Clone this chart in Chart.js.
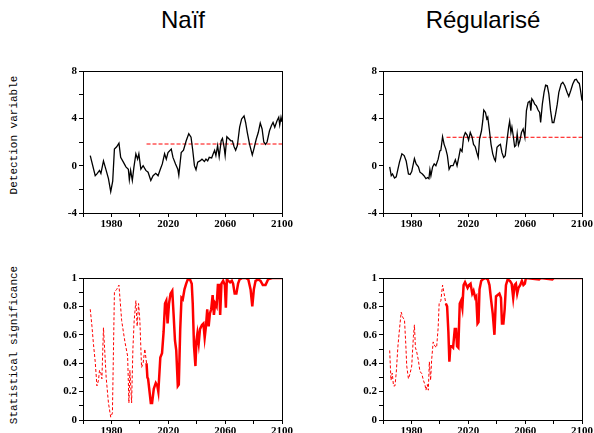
<!DOCTYPE html>
<html>
<head>
<meta charset="utf-8">
<script src="https://cdn.jsdelivr.net/npm/chart.js@4/dist/chart.umd.min.js"></script>
<style>
  body { margin: 0; background: #fff; }
  #wrap { position: relative; width: 594px; height: 433px; overflow: hidden; }
  canvas { position: absolute; }
  .title { position: absolute; font-family: "Liberation Sans", sans-serif; font-size: 24px; color: #000; transform: translateX(-50%); top: 6px; }
  .ylab { position: absolute; font-family: "Liberation Mono", monospace; font-size: 11px; color: #000; white-space: nowrap;
          transform: translate(-50%, -50%) rotate(-90deg); }
</style>
</head>
<body>
<div id="wrap">
  <div class="title" style="left:183px">Naïf</div>
  <div class="title" style="left:483px">Régularisé</div>
  <div class="ylab" style="left:14px; top:135px">Detection variable</div>
  <div class="ylab" style="left:14px; top:345px">Statistical significance</div>
  <canvas id="tl" width="254" height="175" style="left:40px; top:60px"></canvas>
  <canvas id="tr" width="254" height="175" style="left:340px; top:60px"></canvas>
  <canvas id="bl" width="254" height="175" style="left:40px; top:267px"></canvas>
  <canvas id="br" width="254" height="175" style="left:340px; top:267px"></canvas>
</div>
<script>
// detection variable, naive method
const naifYears = [1965.1,1968.6,1969.8,1971.6,1972.6,1974.4,1976.3,1977.9,1979.5,1980.9,1982.1,1983.7,1985.3,1986.5,1988.4,1990.2,1991.9,1992.6,1993.5,1994.7,1995.8,1997.2,1998.4,1999.3,2000.7,2002.3,2004.2,2005.8,2007.7,2009.3,2011.2,2012.8,2014.4,2015.8,2017.4,2018.6,2019.8,2022.1,2023.3,2025.1,2026.7,2027.4,2029.1,2030.7,2032.6,2034.4,2036.0,2037.2,2038.4,2039.5,2040.7,2042.3,2043.7,2045.4,2046.5,2047.7,2048.8,2050.5,2051.6,2052.6,2053.5,2054.7,2055.8,2057.2,2058.1,2059.3,2060.0,2061.2,2062.8,2064.0,2065.1,2066.3,2067.4,2068.6,2070.2,2071.6,2073.3,2074.4,2075.6,2077.2,2079.1,2080.2,2081.9,2083.3,2084.7,2086.0,2087.2,2088.4,2089.5,2091.2,2092.6,2093.7,2094.9,2096.5,2097.7,2098.4,2099.3,2100];
const naifValues = [0.85,-0.85,-0.7,-0.4,-0.65,0.4,-0.4,-1.1,-2.2,-1.3,1.4,1.6,1.9,0.7,0.3,-0.1,-0.3,-1.2,-0.4,-1.25,-0.15,1.0,0.55,1.0,-0.3,0,-0.4,-0.55,-1.25,-0.85,-0.65,-0.85,-0.3,0.15,1.0,0.55,1.1,1.4,0.7,0.15,-0.3,-0.8,1.1,1.3,2.1,2.7,2.4,1.3,0,-0.35,0.3,0.4,0.55,0.35,0.55,0.4,0.7,0.65,1.0,1.3,0.85,1.7,0.75,2.1,2.3,1.55,0.85,2.45,2.25,2.1,2.1,1.6,1.3,1.7,3.25,3.95,4.2,3.65,2.8,1.8,0.9,1.4,2.25,2.8,3.6,3.1,2.0,1.8,2.0,2.95,3.4,3.65,3.25,3.8,4.1,3.45,4.1,3.7];

// detection variable, regularised method
const regYears = [1964.7,1965.8,1966.7,1968.1,1969.3,1970.5,1971.6,1973.3,1974.9,1976.3,1977.9,1979.1,1980.2,1982.1,1983.3,1984.9,1986.0,1987.7,1988.8,1990.2,1991.4,1992.3,1993.0,1993.7,1994.9,1996.0,1997.2,1998.8,2000.0,2000.7,2001.9,2003.0,2004.2,2005.3,2006.5,2007.7,2009.3,2010.9,2012.1,2013.3,2014.4,2015.6,2016.7,2017.9,2019.1,2020.2,2021.4,2022.6,2023.7,2024.9,2026.0,2027.0,2027.9,2029.3,2030.2,2030.9,2032.1,2033.0,2033.7,2034.9,2036.0,2037.2,2038.4,2039.1,2040.2,2041.4,2042.6,2043.7,2044.9,2046.0,2047.2,2048.4,2049.1,2050.0,2050.7,2051.6,2052.6,2053.5,2054.4,2055.3,2056.3,2057.4,2058.6,2059.8,2060.9,2062.1,2063.3,2064.0,2064.7,2065.6,2066.7,2067.9,2069.1,2070.2,2070.9,2072.1,2073.3,2074.4,2075.6,2076.7,2077.9,2079.1,2080.2,2081.4,2082.6,2083.7,2085.3,2086.5,2087.9,2089.5,2090.7,2092.1,2093.5,2094.9,2096.0,2097.2,2098.1,2098.8,2100];
const regValues = [-0.1,-0.85,-0.7,-1.05,-0.95,-0.3,0.3,1.0,0.85,0.4,-0.7,-0.75,-0.5,0.6,0.15,-0.1,-0.55,-0.7,-0.85,-1.1,-1.0,-1.1,-0.35,-0.85,-0.1,0.15,0,0.55,1.25,1.3,2.45,1.8,1.4,0.85,-0.3,0,0,0.5,0,0.7,1.4,1.2,2.4,2.8,2.6,2.15,2.8,2.45,1.8,1.6,1.1,0.7,2.25,2.95,3.8,4.7,4.5,3.95,4.1,2.95,1.8,1.0,0.55,0.4,1.55,1.7,1.8,1.1,0.7,0.85,2.1,3.25,3.75,2.8,3.25,2.55,1.6,1.7,2.7,1.75,2.1,2.8,3.1,2.4,4.65,5.35,5.45,4.65,5.65,5.5,5.2,5.05,4.7,4.5,3.65,5.2,6.2,6.8,6.75,6.05,4.65,3.65,3.65,4.35,5.2,6.2,6.9,7.05,6.75,6.2,5.85,6.35,6.9,7.25,7.3,7.05,6.95,6.5,5.5];

// detection thresholds (red dashed lines)
const thresholdYears = [2004.7, 2100];
const naifThreshold = 1.83;
const regThreshold = 2.4;

// statistical significance, naive method
const naifSigYears = [1965.1,1966.3,1967.4,1968.6,1969.8,1970.9,1971.6,1972.6,1973.3,1974.4,1976.3,1977.9,1979.5,1980.7,1982.1,1983.7,1985.3,1987.2,1989.5,1991.4,1992.3,1993.0,1994.2,1995.1,1996.0,1997.2,1998.1,1999.1,2000.0,2001.2,2002.3,2003.5,2004.7,2005.3,2005.8,2007.7,2008.6,2009.8,2011.2,2012.3,2013.0,2014.4,2015.6,2016.7,2017.7,2018.6,2019.5,2020.5,2021.6,2022.8,2023.7,2024.7,2025.6,2026.7,2027.4,2028.4,2029.3,2030.2,2031.4,2032.6,2033.7,2035.3,2036.5,2037.2,2038.1,2039.1,2039.8,2040.5,2041.4,2042.3,2043.7,2044.7,2045.6,2046.5,2047.4,2048.4,2049.3,2050.2,2051.2,2052.1,2053.0,2054.0,2054.9,2055.8,2056.5,2057.4,2058.6,2059.8,2060.5,2061.2,2062.3,2063.5,2064.7,2065.6,2066.7,2067.9,2069.1,2070.2,2072.1,2074.4,2076.3,2077.9,2079.1,2080.2,2081.4,2083.3,2084.9,2086.5,2088.4,2090.2,2093.0,2100];
const naifSigValues = [0.78,0.66,0.53,0.41,0.24,0.28,0.35,0.33,0.29,0.65,0.3,0.12,0.02,0.05,0.9,0.92,0.95,0.7,0.55,0.45,0.12,0.35,0.12,0.5,0.7,0.84,0.66,0.82,0.7,0.37,0.4,0.5,0.4,0.3,0.29,0.12,0.12,0.22,0.26,0.24,0.2,0.44,0.47,0.62,0.82,0.84,0.68,0.82,0.89,0.91,0.75,0.56,0.49,0.24,0.25,0.64,0.86,0.85,0.92,0.96,0.99,0.99,0.96,0.82,0.52,0.38,0.56,0.61,0.54,0.64,0.67,0.68,0.58,0.66,0.78,0.66,0.75,0.78,0.88,0.74,0.82,0.8,0.95,0.95,0.74,0.96,0.98,0.95,0.79,0.99,0.98,0.97,0.98,0.96,0.89,0.89,0.96,0.99,1.0,1.0,0.99,0.92,0.8,0.92,0.98,0.99,0.98,0.95,0.95,0.99,1.0,1.0];

// statistical significance, regularised method
const regSigYears = [1964.7,1965.6,1966.5,1967.4,1968.4,1969.3,1970.5,1971.6,1972.8,1974.0,1975.1,1976.0,1976.7,1977.9,1979.1,1980.2,1981.4,1982.1,1982.8,1983.7,1984.9,1986.0,1987.2,1988.4,1989.5,1990.2,1991.2,1991.9,1992.6,1993.5,1994.2,1995.3,1996.5,1997.7,1998.8,1999.5,2000.7,2001.9,2003.0,2004.2,2005.1,2006.0,2006.7,2007.4,2008.4,2009.3,2010.5,2011.4,2012.1,2013.0,2014.0,2014.9,2015.8,2016.7,2017.7,2018.6,2019.5,2020.5,2021.6,2022.8,2023.7,2024.9,2025.6,2026.5,2027.2,2027.9,2029.1,2030.2,2032.1,2033.7,2034.9,2036.0,2037.2,2038.4,2039.5,2040.7,2041.9,2043.0,2043.7,2044.7,2045.6,2046.5,2047.7,2049.3,2050.5,2051.6,2052.6,2053.5,2054.4,2055.3,2056.5,2057.7,2058.8,2059.8,2060.5,2069.8,2070.9,2079.1,2080.2,2100];
const regSigValues = [0.49,0.28,0.33,0.24,0.24,0.33,0.52,0.64,0.76,0.72,0.71,0.54,0.38,0.29,0.33,0.38,0.59,0.67,0.51,0.48,0.42,0.34,0.33,0.28,0.25,0.21,0.25,0.21,0.41,0.28,0.42,0.55,0.52,0.51,0.65,0.82,0.84,0.95,0.89,0.82,0.8,0.62,0.41,0.52,0.52,0.51,0.64,0.64,0.52,0.51,0.82,0.84,0.79,0.95,0.97,0.95,0.93,0.95,0.96,0.89,0.91,0.86,0.87,0.68,0.69,0.92,0.98,0.99,1.0,0.99,0.95,0.85,0.75,0.6,0.87,0.88,0.89,0.86,0.68,0.68,0.78,0.95,0.99,0.98,0.96,0.86,0.95,0.96,0.89,0.93,0.95,0.98,0.95,0.96,1.0,0.99,1.0,0.99,1.0,1.0];

const splitYear = 2005; // dashed before, solid after
const xTicks = { min: 1960, max: 2100 };

const tickFont = { family: "'Liberation Serif', 'Times New Roman', serif", size: 11, weight: 'bold' };

const frame = {
  id: 'frame',
  afterDraw(chart) {
    const a = chart.chartArea, c = chart.ctx;
    c.save();
    c.strokeStyle = '#000';
    c.lineWidth = 1;
    c.strokeRect(Math.round(a.left) + 0.5, Math.round(a.top) + 0.5, Math.round(a.right - a.left), Math.round(a.bottom - a.top));
    c.restore();
  }
};

function pairs(xs, ys) {
  return xs.map((x, i) => ({ x: x, y: ys[i] }));
}

function makeScales(yMin, yMax, yStep, yLabel) {
  return {
    x: {
      type: 'linear', min: xTicks.min, max: xTicks.max,
      afterFit: s => { s.height = 22; },
      border: { display: false },
      grid: { drawOnChartArea: false, tickLength: 4, color: '#000' },
      ticks: {
        stepSize: 20, autoSkip: false, maxRotation: 0, color: '#000', font: tickFont, padding: 1,
        callback: v => ((v - 1980) % 40 === 0 ? String(v) : '')
      }
    },
    y: {
      type: 'linear', min: yMin, max: yMax,
      afterFit: s => { s.width = 43; },
      border: { display: false },
      grid: { drawOnChartArea: false, tickLength: 4, color: '#000' },
      ticks: { stepSize: yStep, autoSkip: false, color: '#000', font: tickFont, padding: 2, callback: yLabel }
    }
  };
}

function baseOptions(scales) {
  return {
    responsive: false,
    animation: false,
    devicePixelRatio: 1,
    layout: { padding: { top: 11, right: 11, left: 0, bottom: 0 } },
    plugins: { legend: { display: false }, tooltip: { enabled: false } },
    elements: { point: { radius: 0 } },
    scales: scales
  };
}

function detectionChart(id, years, values, threshold) {
  new Chart(document.getElementById(id), {
    type: 'line',
    data: {
      datasets: [
        { data: pairs(years, values), borderColor: '#000', borderWidth: 1.3, tension: 0 },
        { data: pairs(thresholdYears, [threshold, threshold]), borderColor: '#ff0000', borderWidth: 1, borderDash: [4, 2] }
      ]
    },
    options: baseOptions(makeScales(-4, 8, 2, v => (v % 4 === 0 ? String(v) : ''))),
    plugins: [frame]
  });
}

function significanceChart(id, years, values) {
  new Chart(document.getElementById(id), {
    type: 'line',
    data: {
      datasets: [{
        data: pairs(years, values), borderColor: '#ff0000', borderWidth: 2.5, tension: 0,
        segment: {
          borderDash: ctx => (ctx.p1.parsed.x <= splitYear ? [3, 2] : undefined),
          borderWidth: ctx => (ctx.p1.parsed.x <= splitYear ? 1 : 2.5)
        }
      }]
    },
    options: baseOptions(makeScales(0, 1, 0.1, v => {
      const k = Math.round(v * 10);
      return k % 2 === 0 ? String(k / 10) : '';
    })),
    plugins: [frame]
  });
}

detectionChart('tl', naifYears, naifValues, naifThreshold);
detectionChart('tr', regYears, regValues, regThreshold);
significanceChart('bl', naifSigYears, naifSigValues);
significanceChart('br', regSigYears, regSigValues);
</script>
</body>
</html>
